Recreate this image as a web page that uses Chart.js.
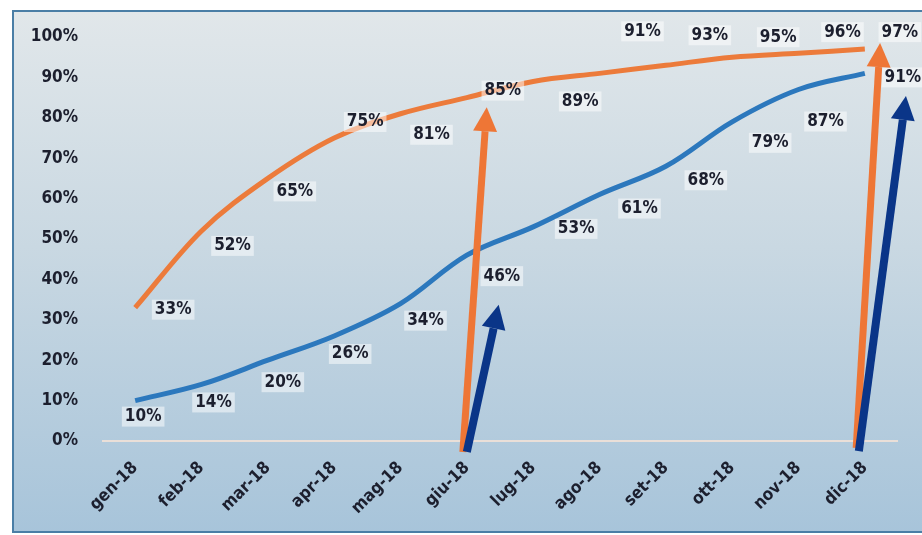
<!DOCTYPE html>
<html>
<head>
<meta charset="utf-8">
<script src="https://cdn.jsdelivr.net/npm/chart.js@4.4.1/dist/chart.umd.min.js"></script>
<style>
  html, body { margin: 0; padding: 0; background: #fff; }
  #wrap { width: 922px; height: 535px; }
</style>
</head>
<body>
<div id="wrap"><canvas id="progressChart" width="922" height="535"></canvas></div>
<script>
// Chart data
const months = ['gen-18', 'feb-18', 'mar-18', 'apr-18', 'mag-18', 'giu-18',
                'lug-18', 'ago-18', 'set-18', 'ott-18', 'nov-18', 'dic-18'];
const orangeValues = [33, 52, 65, 75, 81, 85, 89, 91, 93, 95, 96, 97];
const blueValues = [10, 14, 20, 26, 34, 46, 53, 61, 68, 79, 87, 91];
const yTicks = [0, 10, 20, 30, 40, 50, 60, 70, 80, 90, 100];

const FONT = '"DejaVu Sans Condensed", "DejaVu Sans", sans-serif';
const TEXT = '#1c1f2e';

// background: scanned light gradient + frame
const backgroundPlugin = {
    id: 'paperBg',
    beforeDraw(chart) {
        const ctx = chart.ctx;
        const w = chart.width, h = chart.height;
        ctx.save();
        const g = ctx.createLinearGradient(0, 12, 0, h);
        g.addColorStop(0, '#e1e7ea');
        g.addColorStop(0.45, '#c9d8e2');
        g.addColorStop(1, '#a7c4da');
        ctx.fillStyle = g;
        ctx.fillRect(12, 10, w - 12, h - 13);
        ctx.strokeStyle = '#4a7ea6';
        ctx.lineWidth = 2;
        ctx.beginPath();
        ctx.moveTo(w, 11);
        ctx.lineTo(13, 11);
        ctx.lineTo(13, h - 3);
        ctx.lineTo(w, h - 3);
        ctx.stroke();
        ctx.restore();
    }
};

// value labels next to each point
const valueLabelPlugin = {
    id: 'valueLabels',
    afterDatasetsDraw(chart, args, opts) {
        const ctx = chart.ctx;
        ctx.save();
        ctx.font = 'bold 17px ' + FONT;
        ctx.textAlign = 'center';
        ctx.textBaseline = 'middle';
        chart.data.datasets.forEach((ds, di) => {
            const meta = chart.getDatasetMeta(di);
            const offs = opts.offsets[di];
            meta.data.forEach((pt, i) => {
                const x = pt.x + offs[i][0];
                const y = pt.y + offs[i][1];
                const txt = ds.data[i] + '%';
                const tw = ctx.measureText(txt).width;
                ctx.fillStyle = 'rgba(255,255,255,0.5)';
                ctx.fillRect(x - tw / 2 - 3, y - 10, tw + 6, 20);
                ctx.fillStyle = TEXT;
                ctx.fillText(txt, x, y);
            });
        });
        ctx.restore();
    }
};

// hand-drawn arrows, placed in data coordinates
const arrowPlugin = {
    id: 'arrows',
    afterDraw(chart, args, opts) {
        const ctx = chart.ctx;
        const xs = chart.scales.x, ys = chart.scales.y;
        ctx.save();
        opts.list.forEach(a => {
            const x0 = xs.getPixelForValue(a.from[0]), y0 = ys.getPixelForValue(a.from[1]);
            const x1 = xs.getPixelForValue(a.to[0]), y1 = ys.getPixelForValue(a.to[1]);
            const ang = Math.atan2(y1 - y0, x1 - x0);
            const hl = 24, hw = 12;
            const bx = x1 - hl * Math.cos(ang), by = y1 - hl * Math.sin(ang);
            ctx.strokeStyle = a.color;
            ctx.lineWidth = a.width;
            ctx.lineCap = 'butt';
            ctx.beginPath();
            ctx.moveTo(x0, y0);
            ctx.lineTo(bx, by);
            ctx.stroke();
            ctx.fillStyle = a.color;
            ctx.beginPath();
            ctx.moveTo(x1, y1);
            ctx.lineTo(bx + hw * Math.sin(ang), by - hw * Math.cos(ang));
            ctx.lineTo(bx - hw * Math.sin(ang), by + hw * Math.cos(ang));
            ctx.closePath();
            ctx.fill();
        });
        ctx.restore();
    }
};

const ctx = document.getElementById('progressChart').getContext('2d');
new Chart(ctx, {
    type: 'line',
    data: {
        labels: months,
        datasets: [{
            data: orangeValues,
            borderColor: '#ec7b3b',
            borderWidth: 5,
            pointRadius: 0,
            tension: 0.35
        }, {
            data: blueValues,
            borderColor: '#2c78bd',
            borderWidth: 5,
            pointRadius: 0,
            tension: 0.35
        }]
    },
    options: {
        responsive: false,
        animation: false,
        layout: { padding: { left: 0, top: 37, right: 24, bottom: 0 } },
        plugins: {
            legend: { display: false },
            tooltip: { enabled: false },
            valueLabels: {
                offsets: [
                    [[38, 2], [31, 15], [27, 13], [31, -16], [31, 21], [36, -7],
                     [47, 20], [43, -42], [44, -30], [46, -20], [44, -21], [35, -17]],
                    [[8, 16], [12, 18], [15, 22], [16, 18], [25, 17], [35, 21],
                     [43, 2], [40, 14], [40, 14], [38, 21], [27, 32], [38, 4]]
                ]
            },
            arrows: {
                list: [
                    { from: [4.94, -2.7], to: [5.30, 82.6], color: '#ee7636', width: 7 },
                    { from: [5.00, -2.7], to: [5.48, 33.7], color: '#0a3588', width: 8 },
                    { from: [10.87, -1.7], to: [11.23, 98.5], color: '#ee7636', width: 7 },
                    { from: [10.91, -2.5], to: [11.62, 85.4], color: '#0a3588', width: 8 }
                ]
            }
        },
        scales: {
            x: {
                offset: true,
                grid: { display: false },
                border: { display: false },
                ticks: {
                    color: TEXT,
                    font: { family: FONT, size: 17, weight: 'bold' },
                    maxRotation: 45,
                    minRotation: 45,
                    padding: 9
                },
                afterFit(scale) { scale.height = 94; }
            },
            y: {
                min: 0,
                max: 100,
                afterBuildTicks(scale) { scale.ticks = yTicks.map(v => ({ value: v })); },
                grid: {
                    drawTicks: false,
                    color: c => c.tick.value === 0 ? 'rgba(240,225,215,0.9)' : 'rgba(0,0,0,0)',
                    lineWidth: 2
                },
                border: { display: false },
                ticks: {
                    color: TEXT,
                    font: { family: FONT, size: 17, weight: 'bold' },
                    padding: 24,
                    callback: v => v + '%'
                },
                afterFit(scale) { scale.width = 102; }
            }
        }
    },
    plugins: [backgroundPlugin, valueLabelPlugin, arrowPlugin]
});
</script>
</body>
</html>
